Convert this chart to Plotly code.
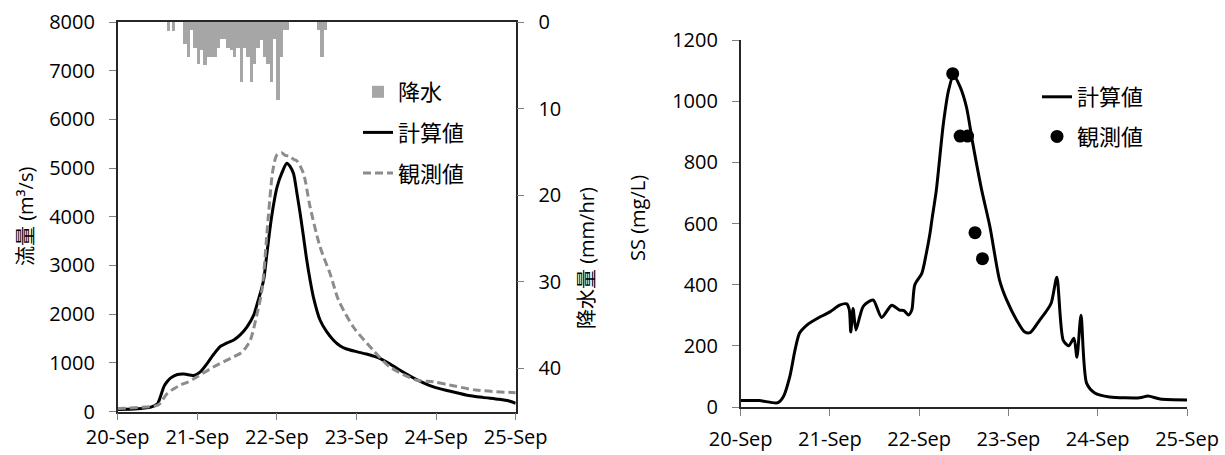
import pandas as pd
import plotly.graph_objects as go

START = pd.Timestamp("2011-09-20")


def at(hours):
    """Hours after 20-Sep 00:00 -> timestamps."""
    return START + pd.to_timedelta(pd.Series(hours, dtype=float), unit="h")


# shared date axis
date_tick_hours = [0, 24, 48, 72, 96, 120]
date_tick_labels = ["20-Sep", "21-Sep", "22-Sep", "23-Sep", "24-Sep", "25-Sep"]

# hourly rainfall (mm/hr), bar centres in hours
rain_hour = [15.2, 16.8,
             20.2, 21.2, 22.2, 23.2, 24.2, 25.2, 26.2, 27.2, 28.2, 29.2,
             30.2, 31.2, 32.2, 33.2, 34.2, 35.2, 36.2, 37.2, 38.2, 39.2,
             40.2, 41.2, 42.2, 43.2, 44.2, 45.2, 46.2, 47.2, 48.2, 49.2,
             50.2, 51.2,
             60.5, 61.5, 62.5]
rain_mm = [1.0, 1.0,
           2.5, 4.0, 0.9, 3.0, 4.9, 3.2, 5.0, 4.0, 4.0, 4.0,
           3.0, 2.0, 2.0, 3.0, 3.2, 4.0, 3.0, 6.9, 3.0, 4.0,
           6.9, 4.9, 3.0, 2.1, 4.0, 4.9, 6.9, 2.0, 9.0, 4.0,
           0.9, 0.9,
           0.9, 4.0, 0.9]

# discharge (m3/s): simulated
flow_calc_hour = [0, 6, 10, 12, 13, 14, 15, 16, 18, 20, 22, 23, 25, 27, 29, 31,
                  33, 35, 37, 39, 41, 42, 43, 44, 45, 46, 47, 48, 49.5, 51, 52,
                  53, 54, 55, 56, 57, 58, 59, 61, 63, 65, 67, 69, 72, 75, 77,
                  79, 82, 85, 90, 95, 100, 105, 110, 115, 118, 120]
flow_calc = [40, 55, 90, 160, 330, 520, 620, 690, 760, 770, 745, 740, 820, 990,
             1180, 1340, 1410, 1470, 1580, 1740, 1980, 2200, 2430, 2700, 3250,
             3800, 4250, 4600, 4900, 5100, 5030, 4890, 4500, 4070, 3600, 3110,
             2700, 2350, 1880, 1640, 1470, 1350, 1283, 1230, 1180, 1140, 1092,
             980, 852, 660, 510, 420, 340, 290, 250, 215, 170]

# discharge (m3/s): observed
flow_obs_hour = [0, 6, 11, 12.5, 15, 17, 19, 21, 24, 29, 34, 37, 38.5, 40, 42,
                 43.5, 45.4, 46.8, 48, 49.4, 50.5, 52, 53, 54, 56, 58, 61, 64,
                 65, 66.5, 71, 77, 82, 90, 95, 100, 108, 120]
flow_obs = [60, 80, 110, 150, 375, 470, 545, 600, 715, 920, 1092, 1195, 1300,
            1468, 2000, 2500, 4000, 4960, 5267, 5314, 5260, 5240, 5180, 5150,
            4890, 4205, 3384, 2837, 2620, 2300, 1741, 1262, 920, 647, 612, 545,
            441, 386]

# suspended sediment (mg/L): simulated
ss_calc_hour = [0, 5, 10, 11.5, 13.2, 14.6, 15.8, 17.8, 21.4, 24, 26.6, 28.5,
                29.2, 29.6, 30.2, 31, 32, 33, 35.6, 37.9, 40.6, 42.7, 43.9, 45.1,
                46, 46.8, 48.7, 49.9, 50.9, 51.4, 52.6, 54.5, 55.9, 57.2, 59,
                60.7, 62.4, 64.8, 67, 69.6, 71.5, 74.2, 76.3, 77.8, 80.4, 82,
                83.5, 85, 86.7, 88.2, 89.6, 90.4, 91.5, 93, 95.2, 99.2, 107.3,
                109.5, 112.8, 120]
ss_calc = [21, 21, 14, 34, 99, 186, 241, 268, 295, 311, 333, 337, 318, 245,
           322, 252, 295, 330, 350, 293, 333, 317, 315, 301, 317, 399, 437, 502,
           568, 611, 709, 927, 1036, 1085, 1047, 981, 862, 709, 590, 415, 350,
           284, 246, 243, 284, 310, 340, 424, 219, 200, 225, 163, 300, 78, 46,
           33, 30, 36, 26, 23]

# suspended sediment (mg/L): observed samples
ss_obs_hour = [57, 59, 61, 63, 65]
ss_obs = [1090, 886, 886, 570, 485]

FONT = "Open Sans, Noto Sans CJK JP, sans-serif"
W, H = 1225, 455
AXIS_LINE = "#262626"
TICK = "#7f7f7f"


def px_x(p):
    return p / W


def px_y(p):
    return 1 - p / H


fig = go.Figure()

fig.add_trace(go.Bar(
    x=at(rain_hour), y=rain_mm, width=3600000, name="降水",
    marker=dict(color="#a6a6a6", line=dict(width=0)),
    xaxis="x", yaxis="y2", legend="legend", legendgroup="rain",
))
fig.add_trace(go.Scatter(
    x=at(flow_calc_hour), y=flow_calc, mode="lines", name="計算値",
    line=dict(color="#000000", width=3, shape="spline", smoothing=0.8),
    xaxis="x", yaxis="y", legend="legend", legendgroup="calc",
))
fig.add_trace(go.Scatter(
    x=at(flow_obs_hour), y=flow_obs, mode="lines", name="観測値",
    line=dict(color="#8c8c8c", width=3, dash="8px,4px", shape="spline",
              smoothing=0.8),
    xaxis="x", yaxis="y", legend="legend", legendgroup="obs",
))
fig.add_trace(go.Scatter(
    x=at(ss_calc_hour), y=ss_calc, mode="lines", name="計算値",
    line=dict(color="#000000", width=3, shape="spline", smoothing=0.7),
    xaxis="x2", yaxis="y3", legend="legend2", legendgroup="sscalc",
))
fig.add_trace(go.Scatter(
    x=at(ss_obs_hour), y=ss_obs, mode="markers", name="観測値",
    marker=dict(color="#000000", size=13),
    xaxis="x2", yaxis="y3", legend="legend2", legendgroup="ssobs",
))

tick_font = dict(family=FONT, size=20, color="#000000")
common = dict(showgrid=False, zeroline=False, showline=True,
              linecolor=AXIS_LINE, linewidth=1.5, ticks="outside", ticklen=7,
              tickcolor=TICK, tickwidth=1.2, tickfont=tick_font)

date_ticks = list(at(date_tick_hours))
x_range = [at([0])[0], at([120])[0]]

fig.update_layout(
    width=W, height=H,
    margin=dict(l=0, r=0, t=0, b=0, autoexpand=False),
    paper_bgcolor="white", plot_bgcolor="white",
    font=dict(family=FONT, size=20, color="#000000"),
    bargap=0,
    xaxis=dict(domain=[px_x(117.7), px_x(515.7)], type="date", range=x_range,
               tickmode="array", tickvals=date_ticks, ticktext=date_tick_labels,
               anchor="y", mirror=True, **common),
    yaxis=dict(domain=[px_y(411.5), px_y(22)], range=[0, 8000], dtick=1000,
               anchor="x", ticklabelstandoff=10, **common),
    yaxis2=dict(overlaying="y", side="right", anchor="x", range=[45, 0],
                tickmode="array", tickvals=[0, 10, 20, 30, 40],
                ticklabelstandoff=10, **common),
    xaxis2=dict(domain=[px_x(740.7), px_x(1187)], type="date", range=x_range,
                tickmode="array", tickvals=date_ticks,
                ticktext=date_tick_labels, anchor="y3", ticklabelstandoff=6,
                **common),
    yaxis3=dict(domain=[px_y(407), px_y(40)], range=[0, 1200], dtick=200,
                anchor="x2", ticklabelstandoff=10, **common),
    legend=dict(x=px_x(358), y=px_y(71), xanchor="left", yanchor="top",
                font=dict(family=FONT, size=22), bgcolor="rgba(0,0,0,0)",
                traceorder="grouped", tracegroupgap=9),
    legend2=dict(x=px_x(1037), y=px_y(76), xanchor="left", yanchor="top",
                 font=dict(family=FONT, size=22), bgcolor="rgba(0,0,0,0)",
                 traceorder="grouped", tracegroupgap=8),
    annotations=[
        dict(text="流量 (m³/s)", x=px_x(25), y=px_y(216),
             xref="paper", yref="paper", textangle=-90, showarrow=False,
             font=dict(family=FONT, size=20), xanchor="center",
             yanchor="middle"),
        dict(text="降水量 (mm/hr)", x=px_x(586), y=px_y(258),
             xref="paper", yref="paper", textangle=-90, showarrow=False,
             font=dict(family=FONT, size=20), xanchor="center",
             yanchor="middle"),
        dict(text="SS (mg/L)", x=px_x(637), y=px_y(218),
             xref="paper", yref="paper", textangle=-90, showarrow=False,
             font=dict(family=FONT, size=20), xanchor="center",
             yanchor="middle"),
    ],
)

fig.write_html("out.html")
